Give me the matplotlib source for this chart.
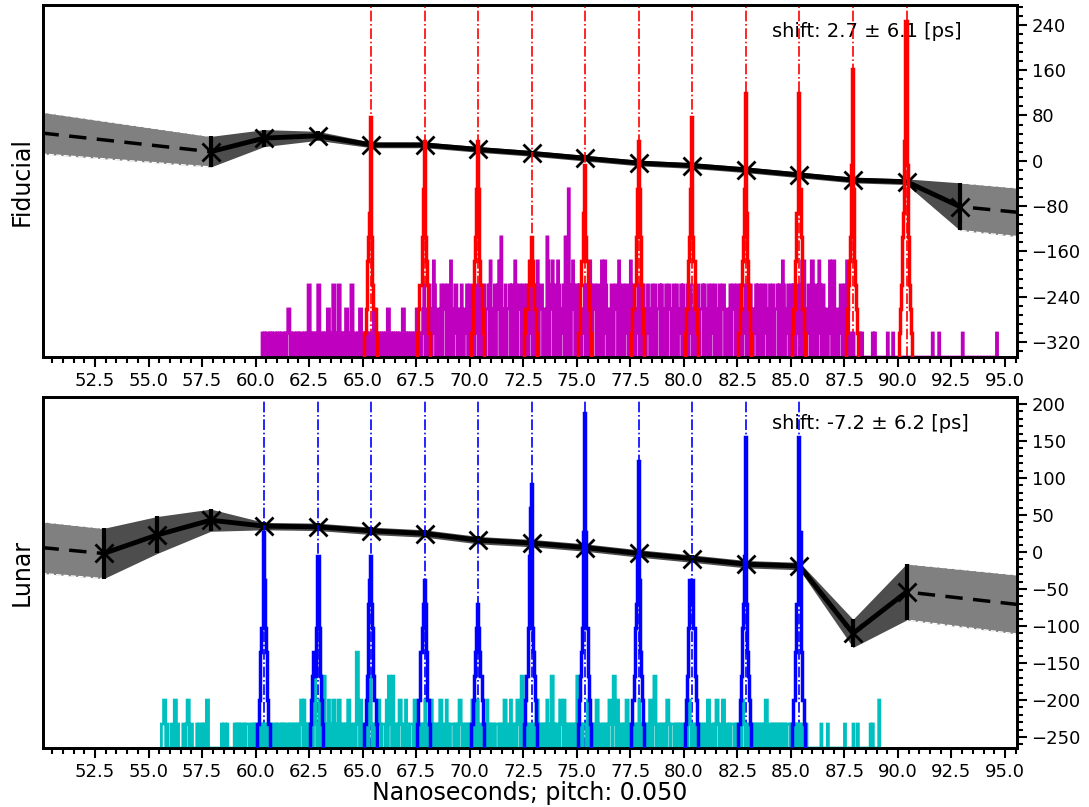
import numpy as np
import matplotlib
matplotlib.use("Agg")
import matplotlib.pyplot as plt
from matplotlib.ticker import MultipleLocator

# ---------------------------------------------------------------------------
# Timing residuals [ps] at each return-pulse position [ns]
# ---------------------------------------------------------------------------
fid_x = [57.9, 60.4, 62.9, 65.4, 67.9, 70.4, 72.9, 75.4, 77.9, 80.4,
         82.9, 85.4, 87.9, 90.4, 92.9]
fid_y = [16, 40, 44, 28, 28, 20, 13, 4.5, -4, -8.5, -16, -25, -34, -37, -81]
fid_err = [27, 15, 8, 5, 5, 5, 5, 5, 5, 5, 5, 5, 5, 5, 42]
# extrapolated ends: (x, y, err)
fid_left = (50.0, 49, 37)
fid_right = (95.6, -91, 43)

lun_x = [52.9, 55.4, 57.9, 60.4, 62.9, 65.4, 67.9, 70.4, 72.9, 75.4,
         77.9, 80.4, 82.9, 85.4, 87.9, 90.4]
lun_y = [-2, 23, 43, 35, 34, 28.6, 25, 16, 12, 6, -2, -9, -16.5, -19, -110, -54]
lun_err = [34, 25, 15, 5, 5, 5, 5, 5, 5, 5, 5, 5, 5, 5, 19, 38]
lun_left = (50.0, 6, 35)
lun_right = (95.6, -71, 40)

fid_shift = "shift: 2.7 \u00b1 6.1 [ps]"
lun_shift = "shift: -7.2 \u00b1 6.2 [ps]"

# ---------------------------------------------------------------------------
# Photon histograms, 0.05 ns bins
# ---------------------------------------------------------------------------
pitch = 0.05

fid_peak_x = [65.4, 67.9, 70.4, 72.9, 75.4, 77.9, 80.4, 82.9, 85.4, 87.9, 90.4]
fid_peaks = [
    [1, 1, 2, 4, 5, 6, 10, 5, 3, 2, 2, 1, 0],
    [1, 2, 3, 3, 5, 7, 9, 5, 4, 3, 1, 1, 0],
    [1, 1, 3, 4, 5, 7, 9, 7, 4, 3, 2, 1, 0],
    [1, 2, 2, 3, 4, 4, 5, 4, 3, 2, 2, 1, 0],
    [1, 1, 3, 4, 4, 6, 8, 5, 4, 3, 2, 1, 0],
    [1, 2, 3, 3, 5, 7, 9, 7, 5, 3, 2, 1, 0],
    [1, 2, 2, 4, 5, 7, 10, 5, 4, 2, 2, 1, 0],
    [1, 2, 3, 4, 5, 7, 11, 6, 4, 3, 2, 1, 0],
    [1, 2, 2, 4, 6, 6, 11, 7, 5, 2, 2, 1, 0],
    [1, 2, 3, 4, 5, 8, 12, 7, 4, 3, 2, 1, 0],
    [1, 2, 3, 5, 6, 9, 14, 8, 5, 3, 2, 1, 0],
]

lun_peak_x = [60.4, 62.9, 65.4, 67.9, 70.4, 72.9, 75.4, 77.9, 80.4, 82.9, 85.4]
lun_peaks = [
    [1, 1, 2, 4, 5, 5, 9, 7, 5, 4, 2, 1, 0],
    [1, 2, 3, 4, 3, 5, 8, 8, 5, 3, 2, 1, 0],
    [1, 1, 2, 3, 6, 7, 8, 6, 5, 3, 2, 1, 0],
    [1, 2, 2, 4, 5, 6, 7, 6, 4, 2, 2, 1, 0],
    [1, 1, 2, 3, 4, 5, 6, 5, 4, 3, 2, 1, 0],
    [1, 2, 3, 5, 8, 10, 11, 5, 4, 3, 2, 1, 0],
    [1, 2, 3, 4, 5, 9, 14, 9, 5, 3, 2, 1, 0],
    [1, 2, 3, 5, 6, 8, 12, 7, 4, 3, 2, 1, 0],
    [1, 2, 3, 5, 7, 6, 7, 7, 5, 3, 2, 1, 0],
    [1, 2, 3, 5, 6, 8, 13, 6, 4, 3, 2, 1, 0],
    [1, 2, 2, 4, 6, 6, 13, 9, 4, 2, 2, 1, 0],
]

# background counts per bin, one digit per bin
fid_bg_start = 60.30
fid_bg = (
    "1010110101" "0110101011" "0101220101" "1010101101" "0103301010"
    "1033010101" "0220103301" "0330101022" "0103301101" "0220101010"
    "1010220101" "0101010220" "1010101010" "0220101010" "1010220101"
    "2302103201" "4302201302" "3203104201" "3302203102" "1302302201"
    "3203201302" "2304201302" "3405201302" "2303204302" "3203302301"
    "4302203402" "3302205402" "3403204301" "2305207302" "4302303201"
    "2303204302" "3203302401" "4302203302" "3204302301" "3302403201"
    "2302303201" "3202301302" "2303201302" "3202302301" "2303202301"
    "3202301302" "2303202301" "3203201302" "3302201302" "3203302301"
    "2302303201" "2303302301" "3202301302" "2303204302" "1302303201"
    "2303404201" "3304402301" "4303302201" "4304402201" "3302304201"
    "0010000010" "1000000000" "1010000000" "0000100001" "0000000000"
    "0000000000" "0000000000" "0000001000" "0010000000" "0000000000"
    "0000100000" "0000000000" "0000000000" "00000010"
)

lun_bg_start = 55.60
lun_bg = (
    "1122010001" "1022010000" "1101220110" "0001011010" "1022000000"
    "0000001011" "0100000010" "1010110101" "1100101011" "0101010101"
    "1010010101" "1010101101" "0101010101" "2202101010" "1033101201"
    "0330102010" "2201022010" "1010220110" "1044102010" "1010331010"
    "1022101110" "2033103010" "1022101020" "1011102201" "1010102010"
    "1020101010" "2201102010" "1110101022" "1010101010" "2010220110"
    "1010201010" "1011101010" "2201102010" "1022103301" "1010101010"
    "2210101010" "2010330101" "1022102010" "1010101033" "1010111020"
    "1010102201" "1010101022" "1033102010" "1010220110" "1010102010"
    "1010102201" "3301101010" "1022101110" "1010101010" "1022101010"
    "1010101010" "2201101022" "1010220110" "1011101010" "1022101010"
    "1010101010" "1010220110" "1010101010" "1010111010" "1010101010"
    "0010000000" "0000001000" "0010000000" "0000000010" "0000001000"
    "1000000000" "0010100000" "20"
)

xlabel = "Nanoseconds; pitch: 0.050"

plt.rcParams["font.family"] = "DejaVu Sans"

fig = plt.figure(figsize=(10.89, 8.07), dpi=100)
ax_top = fig.add_axes([0.0395, 0.5576, 0.8944, 0.4362])
ax_bot = fig.add_axes([0.0395, 0.0731, 0.8944, 0.4349])


def draw_residuals(ax, x, y, err, left, right):
    x = np.asarray(x, float)
    y = np.asarray(y, float)
    err = np.asarray(err, float)
    # extrapolated ends
    for (xe, ye, ee), i in ((left, 0), (right, -1)):
        xs = [xe, x[i]]
        ys = np.array([ye, y[i]])
        es = np.array([ee, err[i]])
        ax.fill_between(xs, ys - es, ys + es, color="0.5", lw=0, zorder=1)
        ax.plot(xs, ys + es, color="white", ls="--", lw=1, zorder=1.5)
        ax.plot(xs, ys - es, color="white", ls="--", lw=1, zorder=1.5)
        ax.plot(xs, ys, color="k", ls="--", lw=2.5, dashes=(5, 3), zorder=3)
    # measured region
    ax.fill_between(x, y - err, y + err, color="0.3", lw=0, zorder=2)
    ax.errorbar(x, y, yerr=err, fmt="none", ecolor="k", elinewidth=3,
                capsize=0, zorder=3)
    ax.plot(x, y, color="k", lw=3.5, marker="x", ms=13, mew=2, zorder=4)


def draw_counts(ax, peak_x, peaks, bg_start, bg, color, bg_color):
    ax.set_ylim(0, 14.65)
    for xc in peak_x:
        ax.axvline(xc, color=color, ls="-.", lw=1.2, zorder=1)
    counts = np.array([int(c) for c in bg])
    edges = bg_start + pitch * np.arange(len(counts) + 1)
    ax.stairs(counts, edges, color=bg_color, lw=2, zorder=2)
    for xc, prof in zip(peak_x, peaks):
        prof = np.array(prof)
        pe = xc - pitch * (len(prof) / 2 + 0.5) + pitch * np.arange(len(prof) + 1)
        ax.stairs(prof, pe, color=color, lw=2.5, zorder=3)


def style(ax, hax, ylim, major, minor):
    ax.set_xlim(50.07, 95.56)
    ax.set_ylim(*ylim)
    ax.yaxis.tick_right()
    ax.xaxis.set_major_locator(MultipleLocator(2.5))
    ax.xaxis.set_minor_locator(MultipleLocator(0.5))
    ax.yaxis.set_major_locator(MultipleLocator(major))
    ax.yaxis.set_minor_locator(MultipleLocator(minor))
    ax.tick_params(which="both", direction="out", width=1.5, labelsize=13)
    ax.tick_params(which="major", length=7)
    ax.tick_params(which="minor", length=4)
    hax.set_yticks([])
    hax.tick_params(which="both", length=0)
    for a in (ax, hax):
        for sp in a.spines.values():
            sp.set_linewidth(2)


panels = [
    (ax_top, fid_x, fid_y, fid_err, fid_left, fid_right, fid_peak_x, fid_peaks,
     fid_bg_start, fid_bg, "r", "m", (-346.5, 275), 80, 16, fid_shift, "Fiducial"),
    (ax_bot, lun_x, lun_y, lun_err, lun_left, lun_right, lun_peak_x, lun_peaks,
     lun_bg_start, lun_bg, "b", "c", (-265, 209.5), 50, 10, lun_shift, "Lunar"),
]

for (ax, x, y, err, left, right, px, pk, bs, bg, col, bgcol,
     ylim, major, minor, shift, name) in panels:
    draw_residuals(ax, x, y, err, left, right)
    hax = ax.twinx()
    draw_counts(hax, px, pk, bs, bg, col, bgcol)
    style(ax, hax, ylim, major, minor)
    ax.text(0.7485, 0.924, shift, transform=ax.transAxes, fontsize=14,
            va="center", ha="left")
    pos = ax.get_position()
    fig.text(0.0202, (pos.y0 + pos.y1) / 2, name, rotation=90, fontsize=17,
             ha="center", va="center")

fig.text(0.4867, 0.0175, xlabel, fontsize=17, ha="center", va="center")

fig.savefig("out.png", dpi=100)
